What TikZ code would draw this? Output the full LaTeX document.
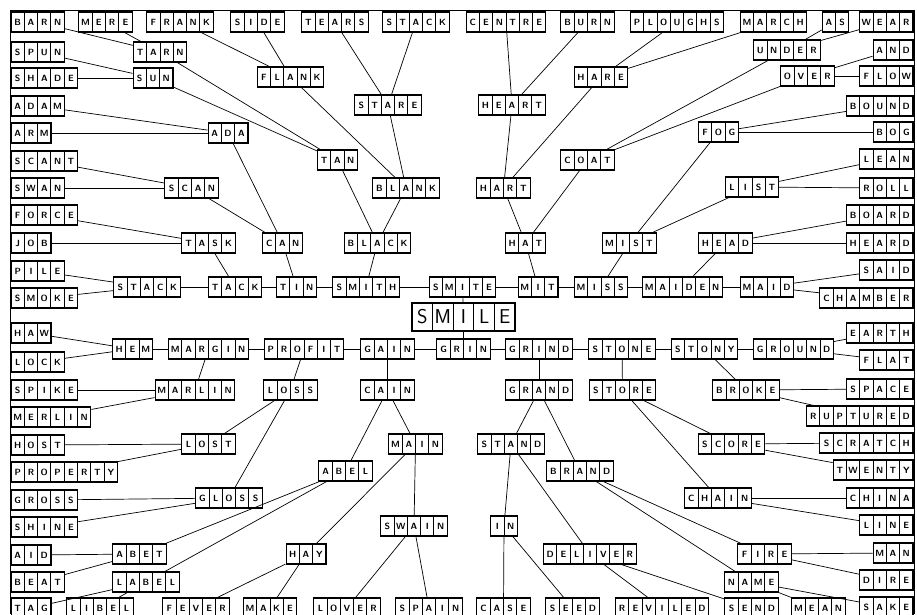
\documentclass[tikz,border=0pt]{standalone}
\usepackage{tikz}
\newlength\cellw \setlength\cellw{13.3pt}
\newlength\cellht \setlength\cellht{13pt}
\newlength\celldp \setlength\celldp{7pt}
\newcommand\cellrule{\kern-0.5pt\vrule width 1pt height\cellht depth\celldp\kern-0.5pt}
\newcommand\spell[1]{\spellfirst#1\relax}
\newcommand\spellfirst[1]{\makebox[\cellw]{#1}\spellrest}
\newcommand\spellrest[1]{\ifx#1\relax\else\cellrule\makebox[\cellw]{#1}\expandafter\spellrest\fi}
\newcommand\bigcells{\setlength\cellw{20.6pt}\setlength\cellht{20pt}\setlength\celldp{8pt}}

\begin{document}
\begin{tikzpicture}[x=1pt, y=-1pt, line width=0.7pt,
    word/.style={draw, line width=1.1pt, inner sep=0pt, font=\fontsize{9}{9}\selectfont\sffamily\bfseries},
    lword/.style={word, anchor=west},
    rword/.style={word, anchor=east},
    bigword/.style={draw, line width=1.1pt, inner sep=0pt, font=\fontsize{20}{20}\selectfont\sffamily}]
    \clip (0,0) rectangle (917,614);
    \fill[white] (0,0) rectangle (917,614);
    \draw[line width=1pt] (10,614) -- (10,10) -- (914,10) -- (914,614);

    \node[lword] (barn) at (10.5,22) {\spell{BARN}};
    \node[lword] (spun) at (10.5,52) {\spell{SPUN}};
    \node[lword] (shade) at (10.5,78) {\spell{SHADE}};
    \node[lword] (adam) at (10.5,106) {\spell{ADAM}};
    \node[lword] (arm) at (10.5,133) {\spell{ARM}};
    \node[lword] (scant) at (10.5,161) {\spell{SCANT}};
    \node[lword] (swan) at (10.5,188) {\spell{SWAN}};
    \node[lword] (force) at (10.5,215) {\spell{FORCE}};
    \node[lword] (job) at (10.5,243) {\spell{JOB}};
    \node[lword] (pile) at (10.5,271) {\spell{PILE}};
    \node[lword] (smoke) at (10.5,298) {\spell{SMOKE}};
    \node[lword] (haw) at (10.5,333) {\spell{HAW}};
    \node[lword] (lock) at (10.5,362) {\spell{LOCK}};
    \node[lword] (spike) at (10.5,390) {\spell{SPIKE}};
    \node[lword] (merlin) at (10.5,417) {\spell{MERLIN}};
    \node[lword] (host) at (10.5,445) {\spell{HOST}};
    \node[lword] (property) at (10.5,472) {\spell{PROPERTY}};
    \node[lword] (gross) at (10.5,500) {\spell{GROSS}};
    \node[lword] (shine) at (10.5,527) {\spell{SHINE}};
    \node[lword] (aid) at (10.5,555) {\spell{AID}};
    \node[lword] (beat) at (10.5,582) {\spell{BEAT}};
    \node[lword] (tag) at (10.5,608) {\spell{TAG}};

    \node[word] (mere) at (105.5,22) {\spell{MERE}};
    \node[word] (frank) at (180,22) {\spell{FRANK}};
    \node[word] (side) at (257.5,22) {\spell{SIDE}};
    \node[word] (tears) at (335,22) {\spell{TEARS}};
    \node[word] (stacktop) at (416,22) {\spell{STACK}};
    \node[word] (centre) at (506,22) {\spell{CENTRE}};
    \node[word] (burn) at (587.5,22) {\spell{BURN}};
    \node[word] (ploughs) at (677,22) {\spell{PLOUGHS}};
    \node[word] (march) at (773.5,22) {\spell{MARCH}};
    \node[word] (as) at (835.5,22) {\spell{AS}};

    \node[rword] (wear) at (913.5,22) {\spell{WEAR}};
    \node[rword] (and) at (913.5,50) {\spell{AND}};
    \node[rword] (flow) at (913.5,76) {\spell{FLOW}};
    \node[rword] (bound) at (913.5,106) {\spell{BOUND}};
    \node[rword] (bog) at (913.5,132) {\spell{BOG}};
    \node[rword] (lean) at (913.5,159) {\spell{LEAN}};
    \node[rword] (roll) at (913.5,188) {\spell{ROLL}};
    \node[rword] (board) at (913.5,215) {\spell{BOARD}};
    \node[rword] (heard) at (913.5,243) {\spell{HEARD}};
    \node[rword] (said) at (913.5,270) {\spell{SAID}};
    \node[rword] (chamber) at (913.5,298) {\spell{CHAMBER}};
    \node[rword] (earth) at (913.5,333) {\spell{EARTH}};
    \node[rword] (flat) at (913.5,360) {\spell{FLAT}};
    \node[rword] (space) at (913.5,389) {\spell{SPACE}};
    \node[rword] (ruptured) at (913.5,416) {\spell{RUPTURED}};
    \node[rword] (scratch) at (913.5,443) {\spell{SCRATCH}};
    \node[rword] (twenty) at (913.5,470) {\spell{TWENTY}};
    \node[rword] (china) at (913.5,498) {\spell{CHINA}};
    \node[rword] (line) at (913.5,525) {\spell{LINE}};
    \node[rword] (man) at (913.5,553) {\spell{MAN}};
    \node[rword] (dire) at (913.5,580) {\spell{DIRE}};
    \node[rword] (sake) at (913.5,607) {\spell{SAKE}};

    \node[word] (tarn) at (160,52) {\spell{TARN}};
    \node[word] (sun) at (153,78) {\spell{SUN}};
    \node[word] (flank) at (290.5,77) {\spell{FLANK}};
    \node[word] (hare) at (601,77) {\spell{HARE}};
    \node[word] (under) at (787,50) {\spell{UNDER}};
    \node[word] (over) at (807.5,76) {\spell{OVER}};
    \node[word] (stare) at (388,105) {\spell{STARE}};
    \node[word] (heart) at (512,105) {\spell{HEART}};
    \node[word] (ada) at (228,133) {\spell{ADA}};
    \node[word] (fog) at (718.5,132) {\spell{FOG}};
    \node[word] (tan) at (337.5,160) {\spell{TAN}};
    \node[word] (coat) at (587.5,160) {\spell{COAT}};
    \node[word] (scan) at (191.5,188) {\spell{SCAN}};
    \node[word] (blank) at (406,188) {\spell{BLANK}};
    \node[word] (hart) at (503.5,188) {\spell{HART}};
    \node[word] (list) at (752,187) {\spell{LIST}};
    \node[word] (task) at (208.5,243) {\spell{TASK}};
    \node[word] (can) at (282.5,243) {\spell{CAN}};
    \node[word] (black) at (377.5,243) {\spell{BLACK}};
    \node[word] (hat) at (525.5,243) {\spell{HAT}};
    \node[word] (mist) at (629.5,243) {\spell{MIST}};
    \node[word] (head) at (725.5,243) {\spell{HEAD}};

    \node[word] (stack) at (147,287) {\spell{STACK}};
    \node[word] (tack) at (235,287) {\spell{TACK}};
    \node[word] (tin) at (296.5,287) {\spell{TIN}};
    \node[word] (smith) at (366,287) {\spell{SMITH}};
    \node[word] (smite) at (462.5,287) {\spell{SMITE}};
    \node[word] (mit) at (538,287) {\spell{MIT}};
    \node[word] (miss) at (601,287) {\spell{MISS}};
    \node[word] (maiden) at (682.5,287) {\spell{MAIDEN}};
    \node[word] (maid) at (767,287) {\spell{MAID}};

    \node[bigword] (smile) at (463.5,317) {\bigcells\spell{SMILE}};

    \node[word] (hem) at (132.5,349) {\spell{HEM}};
    \node[word] (margin) at (208.5,349) {\spell{MARGIN}};
    \node[word] (profit) at (304,349) {\spell{PROFIT}};
    \node[word] (gain) at (387.5,349) {\spell{GAIN}};
    \node[word] (grin) at (463.5,349) {\spell{GRIN}};
    \node[word] (grind) at (539,349) {\spell{GRIND}};
    \node[word] (stone) at (622,349) {\spell{STONE}};
    \node[word] (stony) at (704.5,349) {\spell{STONY}};
    \node[word] (ground) at (793.5,349) {\spell{GROUND}};
    \node[word] (marlin) at (195,390) {\spell{MARLIN}};
    \node[word] (loss) at (290.5,390) {\spell{LOSS}};
    \node[word] (cain) at (387.5,390) {\spell{CAIN}};
    \node[word] (grand) at (539,390) {\spell{GRAND}};
    \node[word] (store) at (622.5,390) {\spell{STORE}};
    \node[word] (broke) at (746,390) {\spell{BROKE}};
    \node[word] (lost) at (208.5,444) {\spell{LOST}};
    \node[word] (main) at (415.5,444) {\spell{MAIN}};
    \node[word] (stand) at (511,444) {\spell{STAND}};
    \node[word] (score) at (731.5,444) {\spell{SCORE}};
    \node[word] (abel) at (345.5,471) {\spell{ABEL}};
    \node[word] (brand) at (580,471) {\spell{BRAND}};
    \node[word] (gloss) at (229,498) {\spell{GLOSS}};
    \node[word] (chain) at (718,498) {\spell{CHAIN}};
    \node[word] (swain) at (414,526) {\spell{SWAIN}};
    \node[word] (in) at (504,526) {\spell{IN}};
    \node[word] (abet) at (139.5,554) {\spell{ABET}};
    \node[word] (hay) at (306,554) {\spell{HAY}};
    \node[word] (deliver) at (590,554) {\spell{DELIVER}};
    \node[word] (fire) at (764.5,554) {\spell{FIRE}};
    \node[word] (label) at (146,582) {\spell{LABEL}};
    \node[word] (name) at (751.5,582) {\spell{NAME}};
    \node[word] (libel) at (100,608) {\spell{LIBEL}};
    \node[word] (fever) at (196,608) {\spell{FEVER}};
    \node[word] (make) at (270,608) {\spell{MAKE}};
    \node[word] (lover) at (347,608) {\spell{LOVER}};
    \node[word] (spain) at (429,608) {\spell{SPAIN}};
    \node[word] (case) at (503.5,608) {\spell{CASE}};
    \node[word] (seed) at (572.5,608) {\spell{SEED}};
    \node[word] (reviled) at (662,608) {\spell{REVILED}};
    \node[word] (send) at (751.5,608) {\spell{SEND}};
    \node[word] (mean) at (818.5,608) {\spell{MEAN}};

    \draw (barn) -- (tarn);
    \draw (mere) -- (tarn);
    \draw (spun) -- (sun);
    \draw (shade) -- (sun);
    \draw (frank) -- (flank);
    \draw (side) -- (flank);
    \draw (tarn) -- (tan);
    \draw (sun) -- (tan);
    \draw (adam) -- (ada);
    \draw (arm) -- (ada);
    \draw (ada) -- (can);
    \draw (scant) -- (scan);
    \draw (swan) -- (scan);
    \draw (scan) -- (can);
    \draw (force) -- (task);
    \draw (job) -- (task);
    \draw (task) -- (tack);
    \draw (can) -- (tin);
    \draw (pile) -- (stack);
    \draw (smoke) -- (stack);
    \draw (stack) -- (tack);
    \draw (tack) -- (tin);
    \draw (tin) -- (smith);
    \draw (smith) -- (smite);
    \draw (smite) -- (mit);
    \draw (mit) -- (miss);
    \draw (miss) -- (maiden);
    \draw (maiden) -- (maid);
    \draw (tears) -- (stare);
    \draw (stacktop) -- (stare);
    \draw (stare) -- (blank);
    \draw (flank) -- (blank);
    \draw (tan) -- (black);
    \draw (blank) -- (black);
    \draw (black) -- (smith);
    \draw (centre) -- (heart);
    \draw (burn) -- (heart);
    \draw (heart) -- (hart);
    \draw (hare) -- (hart);
    \draw (ploughs) -- (hare);
    \draw (march) -- (hare);
    \draw (hart) -- (hat);
    \draw (coat) -- (hat);
    \draw (hat) -- (mit);
    \draw (under) -- (coat);
    \draw (over) -- (coat);
    \draw (as) -- (under);
    \draw (wear) -- (under);
    \draw (and) -- (over);
    \draw (flow) -- (over);
    \draw (bound) -- (fog);
    \draw (bog) -- (fog);
    \draw (fog) -- (mist);
    \draw (list) -- (mist);
    \draw (lean) -- (list);
    \draw (roll) -- (list);
    \draw (mist) -- (miss);
    \draw (board) -- (head);
    \draw (heard) -- (head);
    \draw (head) -- (maiden);
    \draw (said) -- (maid);
    \draw (chamber) -- (maid);
    \draw (smite) -- (smile);
    \draw (smile) -- (grin);

    \draw (hem) -- (margin);
    \draw (margin) -- (profit);
    \draw (profit) -- (gain);
    \draw (gain) -- (grin);
    \draw (grin) -- (grind);
    \draw (grind) -- (stone);
    \draw (stone) -- (stony);
    \draw (stony) -- (ground);
    \draw (haw) -- (hem);
    \draw (lock) -- (hem);
    \draw (margin) -- (marlin);
    \draw (spike) -- (marlin);
    \draw (merlin) -- (marlin);
    \draw (profit) -- (loss);
    \draw (loss) -- (lost);
    \draw (loss) -- (gloss);
    \draw (host) -- (lost);
    \draw (property) -- (lost);
    \draw (gross) -- (gloss);
    \draw (shine) -- (gloss);
    \draw (gain) -- (cain);
    \draw (cain) -- (abel);
    \draw (cain) -- (main);
    \draw (abel) -- (abet);
    \draw (abel) -- (label);
    \draw (aid) -- (abet);
    \draw (beat) -- (abet);
    \draw (label) -- (tag);
    \draw (label) -- (libel);
    \draw (main) -- (hay);
    \draw (main) -- (swain);
    \draw (hay) -- (fever);
    \draw (hay) -- (make);
    \draw (swain) -- (lover);
    \draw (swain) -- (spain);
    \draw (grind) -- (grand);
    \draw (grand) -- (stand);
    \draw (grand) -- (brand);
    \draw (stand) -- (in);
    \draw (stand) -- (deliver);
    \draw (in) -- (case);
    \draw (in) -- (seed);
    \draw (deliver) -- (reviled);
    \draw (deliver) -- (send);
    \draw (brand) -- (fire);
    \draw (brand) -- (name);
    \draw (fire) -- (man);
    \draw (fire) -- (dire);
    \draw (name) -- (mean);
    \draw (name) -- (sake);
    \draw (stone) -- (store);
    \draw (store) -- (score);
    \draw (store) -- (chain);
    \draw (score) -- (scratch);
    \draw (score) -- (twenty);
    \draw (chain) -- (china);
    \draw (chain) -- (line);
    \draw (stony) -- (broke);
    \draw (broke) -- (space);
    \draw (broke) -- (ruptured);
    \draw (ground) -- (earth);
    \draw (ground) -- (flat);
\end{tikzpicture}
\end{document}
